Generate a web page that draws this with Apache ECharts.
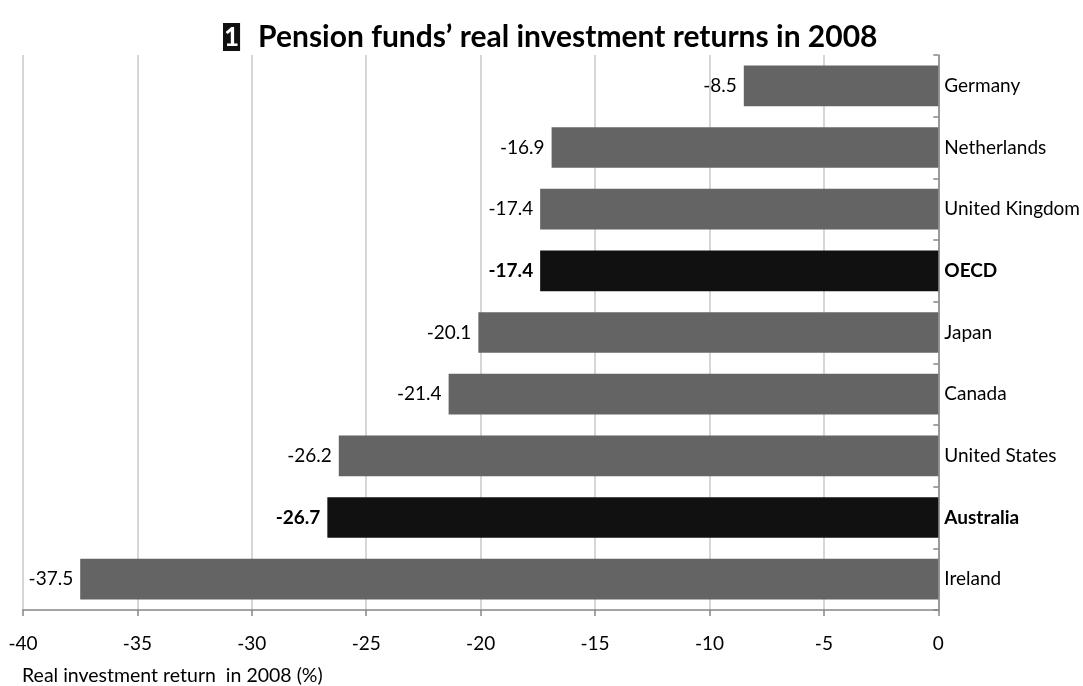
<!DOCTYPE html>
<html><head><meta charset="utf-8">
<script src="https://cdn.jsdelivr.net/npm/echarts@6/dist/echarts.min.js"></script>
<style>html,body{margin:0;padding:0;background:#fff}#c{width:1083px;height:686px}</style>
</head><body><div id="c"></div>
<script>
const categories = ['Germany','Netherlands','United Kingdom','OECD','Japan','Canada','United States','Australia','Ireland'];
const values = [-8.5,-16.9,-17.4,-17.4,-20.1,-21.4,-26.2,-26.7,-37.5];
const highlighted = ['OECD','Australia'];
const xTicks = [-40,-35,-30,-25,-20,-15,-10,-5,0];

const FONT = 'Lato, "Open Sans", sans-serif';
const chart = echarts.init(document.getElementById('c'));
const data = values.map((v,i)=>{
  const hi = highlighted.includes(categories[i]);
  return {value:v, itemStyle:{color: hi ? '#111111' : '#646464'},
    label:{fontWeight: hi ? 'bold' : 'normal'}};
});
chart.setOption({
  animation:false,
  title:{
    text:'{box|1}{sp| }{t|Pension funds’ real investment returns in 2008}',
    left:218, top:17,
    textStyle:{fontFamily:FONT, fontSize:30, fontWeight:'bold', color:'#000',
      rich:{
        box:{backgroundColor:'#111', color:'#fff', fontFamily:FONT, fontSize:26, fontWeight:'bold', lineHeight:27, padding:[2,1,0,1]},
        sp:{width:18},
        t:{fontFamily:FONT, fontSize:30, fontWeight:'bold', color:'#000'}
      }}
  },
  grid:{left:23, right:143, top:55, bottom:75, containLabel:false},
  xAxis:{
    type:'value', min:xTicks[0], max:xTicks[xTicks.length-1], interval:5,
    axisLine:{show:true, lineStyle:{color:'#868686', width:1.5}},
    axisTick:{show:true, length:6, lineStyle:{color:'#868686', width:1.5}},
    axisLabel:{fontFamily:FONT, fontSize:19, color:'#000', margin:24},
    splitLine:{show:true, lineStyle:{color:'#c8c8c8', width:1.5}},
    name:'Real investment return  in 2008 (%)', nameLocation:'start',
    nameTextStyle:{fontFamily:FONT, fontSize:19.5, color:'#000', align:'left', verticalAlign:'top', padding:[56,0,0,-1]},
    nameGap:0
  },
  yAxis:{
    type:'category', data:categories, inverse:true, position:'right',
    axisLine:{show:true, onZero:false, lineStyle:{color:'#868686', width:1.5}},
    axisTick:{show:true, inside:true, length:5, lineStyle:{color:'#868686', width:1.5}},
    axisLabel:{fontFamily:FONT, fontSize:19, color:'#000', margin:6,
      formatter:(v)=> highlighted.includes(v) ? '{b|'+v+'}' : v,
      rich:{b:{fontFamily:FONT, fontSize:19, fontWeight:'bold', color:'#000'}}},
    splitLine:{show:false}
  },
  series:[{
    type:'bar', data:data, barCategoryGap:'34%',
    label:{show:true, position:'left', distance:7, fontFamily:FONT, fontSize:19, color:'#000',
      formatter:(p)=>p.value.toFixed(1)}
  }]
});
</script></body></html>
